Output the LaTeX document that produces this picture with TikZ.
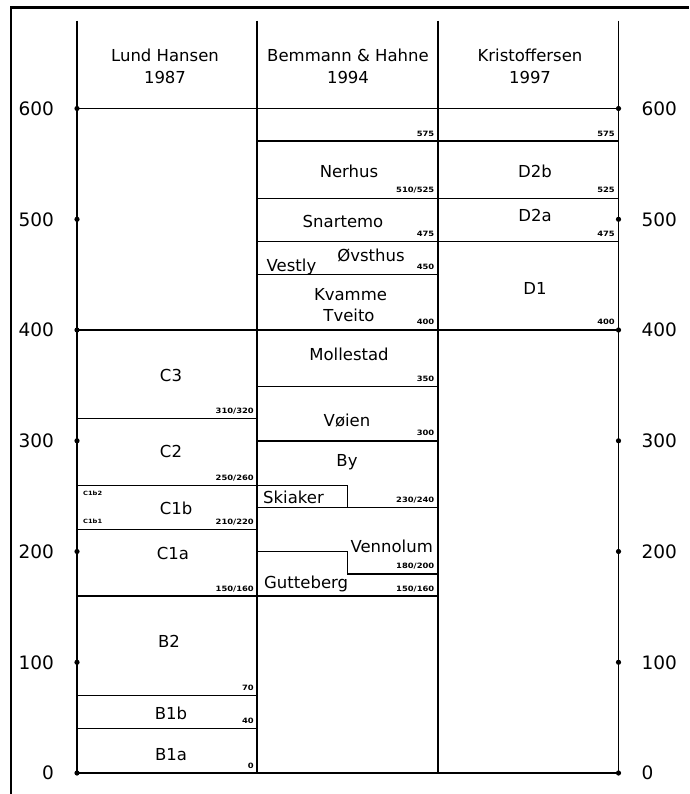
\documentclass[tikz,border=0pt]{standalone}
\usepackage{fontspec}
\setmainfont{DejaVu Sans}
\newfontfamily\numfont[FakeStretch=1.15]{DejaVu Sans}
\usepackage{tikz}
\usetikzlibrary{positioning}

\tikzset{
  lbl/.style={font=\fontsize{16.5}{20}\selectfont, inner sep=0pt, anchor=base},
  axl/.style={font=\fontsize{18.5}{22}\selectfont, inner sep=0pt},
  num/.style={font=\numfont\bfseries\fontsize{7.3}{8}\selectfont, inner sep=0pt, anchor=base east},
  sublbl/.style={font=\numfont\bfseries\fontsize{5.8}{6}\selectfont, inner sep=0pt, anchor=west},
  rule/.style={line width=1.5pt},
  dot/.style={circle, fill, inner sep=0pt, minimum size=5.2pt}
}

\begin{document}
\begin{tikzpicture}[x=1pt,y=-1pt]
\useasboundingbox (0,0) rectangle (689,794);
% frame
\draw [line width=2.4pt] (11,794) -- (11,7.5) -- (689,7.5);
% columns
\draw [rule] (77,20.7) -- (77,773);
\draw [rule] (257,20.7) -- (257,773);
\draw [rule] (438,20.7) -- (438,773);
\draw [rule] (618.5,20.7) -- (618.5,773);
% headers
\node [lbl] (hLund) at (165,61.7) {Lund Hansen};
\node [lbl] (yLund) at (165,83.3) {1987};
\node [lbl] (hBem) at (348,61.7) {Bemmann \& Hahne};
\node [lbl] (yBem) at (348,83.3) {1994};
\node [lbl] (hKri) at (530,61.7) {Kristoffersen};
\node [lbl] (yKri) at (530,83.3) {1997};
% full width lines
\draw [rule] (77,108.5) -- (618.5,108.5);
\draw [rule] (77,330) -- (618.5,330);
\draw [rule] (77,773) -- (618.5,773);
% Lund Hansen
\draw [rule] (77,418.6) -- (257,418.6);
\draw [rule] (77,485.3) -- (347.7,485.3) -- (347.7,507.5);
\draw [rule] (77,529.4) -- (257,529.4);
\draw [rule] (77,596) -- (438,596);
\draw [rule] (77,695.5) -- (257,695.5);
\draw [rule] (77,728.7) -- (257,728.7);
\node [lbl] (c3) at (171,381) {C3};
\node [lbl] (c2) at (171,457.7) {C2};
\node [lbl] (c1b) at (176,514) {C1b};
\node [lbl] (c1a) at (173,559) {C1a};
\node [lbl] (b2) at (169,647.7) {B2};
\node [lbl] (b1b) at (171,719) {B1b};
\node [lbl] (b1a) at (171,760) {B1a};
\node [sublbl] (c1bb) at (83,493) {C1b2};
\node [sublbl] (c1ba) at (83,521) {C1b1};
\node [num] (n320) at (254,413.5) {310/320};
\node [num] (n260) at (254,480.2) {250/260};
\node [num] (n220) at (254,524.3) {210/220};
\node [num] (n160a) at (254,591) {150/160};
\node [num] (n70) at (254,690.5) {70};
\node [num] (n40) at (254,723.7) {40};
\node [num] (n0) at (254,768) {0};
% Bemmann & Hahne
\draw [rule] (257,141.2) -- (618.5,141.2);
\draw [rule] (257,198.3) -- (618.5,198.3);
\draw [rule] (257,241.5) -- (618.5,241.5);
\draw [rule] (257,274.3) -- (438,274.3);
\draw [rule] (257,386.5) -- (438,386.5);
\draw [rule] (257,440.8) -- (438,440.8);
\draw [rule] (257,507.5) -- (438,507.5);
\draw [rule] (257,551.3) -- (347.7,551.3) -- (347.7,573.8) -- (438,573.8);
\node [lbl] (nerhus) at (349,177.7) {Nerhus};
\node [lbl] (snartemo) at (343,227.7) {Snartemo};
\node [lbl] (ovsthus) at (371,261) {Øvsthus};
\node [lbl,anchor=base west] (vestly) at (266.5,271) {Vestly};
\node [lbl] (kvamme) at (350.5,300) {Kvamme};
\node [lbl] (tveito) at (349,321) {Tveito};
\node [lbl] (mollestad) at (349,360) {Mollestad};
\node [lbl] (voien) at (347,426) {Vøien};
\node [lbl] (by) at (347,466) {By};
\node [lbl,anchor=base west] (skiaker) at (263,503.3) {Skiaker};
\node [lbl,anchor=base east] (vennolum) at (433,552.7) {Vennolum};
\node [lbl,anchor=base west] (gutteberg) at (264,588.5) {Gutteberg};
\node [num] (n575a) at (434.5,136.2) {575};
\node [num] (n525a) at (434.5,193) {510/525};
\node [num] (n475a) at (434.5,236.5) {475};
\node [num] (n450) at (434.5,269.3) {450};
\node [num] (n400a) at (434.5,324.5) {400};
\node [num] (n350) at (434.5,381.3) {350};
\node [num] (n300) at (434.5,435.6) {300};
\node [num] (n240) at (434.5,502.5) {230/240};
\node [num] (n200) at (434.5,568.6) {180/200};
\node [num] (n160b) at (434.5,591) {150/160};
% Kristoffersen
\node [lbl] (d2b) at (535,177.7) {D2b};
\node [lbl] (d2a) at (535,222) {D2a};
\node [lbl] (d1) at (535,294.3) {D1};
\node [num] (n575b) at (615,136.2) {575};
\node [num] (n525b) at (615,193) {525};
\node [num] (n475b) at (615,236.5) {475};
\node [num] (n400b) at (615,324.5) {400};
% scale
\node [dot] (l600) at (77,108.5) {};
\node [dot] (l500) at (77,219.3) {};
\node [dot] (l400) at (77,330) {};
\node [dot] (l300) at (77,440.8) {};
\node [dot] (l200) at (77,551.5) {};
\node [dot] (l100) at (77,662.3) {};
\node [dot] (l0) at (77,773) {};
\node [dot] (r600) at (618.5,108.5) {};
\node [dot] (r500) at (618.5,219.3) {};
\node [dot] (r400) at (618.5,330) {};
\node [dot] (r300) at (618.5,440.8) {};
\node [dot] (r200) at (618.5,551.5) {};
\node [dot] (r100) at (618.5,662.3) {};
\node [dot] (r0) at (618.5,773) {};
\node [axl,left=20pt of l600] (t600L) {600};
\node [axl,left=20pt of l500] (t500L) {500};
\node [axl,left=20pt of l400] (t400L) {400};
\node [axl,left=20pt of l300] (t300L) {300};
\node [axl,left=20pt of l200] (t200L) {200};
\node [axl,left=20pt of l100] (t100L) {100};
\node [axl,left=20pt of l0] (t0L) {0};
\node [axl,right=20pt of r600] (t600R) {600};
\node [axl,right=20pt of r500] (t500R) {500};
\node [axl,right=20pt of r400] (t400R) {400};
\node [axl,right=20pt of r300] (t300R) {300};
\node [axl,right=20pt of r200] (t200R) {200};
\node [axl,right=20pt of r100] (t100R) {100};
\node [axl,right=20pt of r0] (t0R) {0};
\end{tikzpicture}
\end{document}
